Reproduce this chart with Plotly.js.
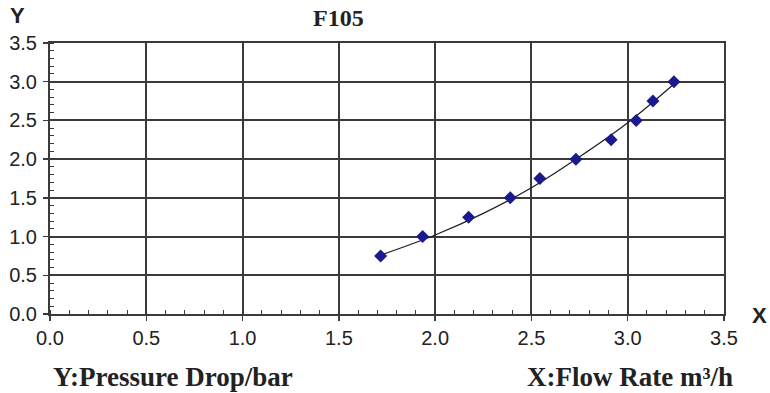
<!DOCTYPE html>
<html>
<head>
<meta charset="utf-8">
<script src="https://cdn.plot.ly/plotly-3.0.1.min.js"></script>
<style>html,body{margin:0;padding:0;background:#fff;}#chart{width:770px;height:393px;}</style>
</head>
<body>
<div id="chart"></div>
<script>
// Measured points: flow rate (m3/h) vs pressure drop (bar)
const flowRate = [1.717, 1.935, 2.174, 2.390, 2.544, 2.731, 2.914, 3.044, 3.131, 3.240];
const pressureDrop = [0.75, 1.00, 1.25, 1.50, 1.75, 2.00, 2.25, 2.50, 2.75, 3.00];
// Trend curve
const curveX = [1.717, 2.0, 2.25, 2.5, 2.75, 3.0, 3.24];
const curveY = [0.76, 1.02, 1.30, 1.63, 2.03, 2.47, 2.97];
const tickVals = [0, 0.5, 1.0, 1.5, 2.0, 2.5, 3.0, 3.5];
const tickText = ['0.0', '0.5', '1.0', '1.5', '2.0', '2.5', '3.0', '3.5'];

const gridColor = '#3a3a3a';
const traces = [
  {x: curveX, y: curveY, mode: 'lines', line: {color: '#222', width: 1.3, shape: 'spline'}, hoverinfo: 'skip'},
  {x: flowRate, y: pressureDrop, mode: 'markers', marker: {symbol: 'diamond', size: 10, color: '#1a1a8e'}}
];
const axisCommon = {
  range: [0, 3.5], tickvals: tickVals, ticktext: tickText,
  showgrid: true, gridcolor: gridColor, gridwidth: 2,
  showline: true, linecolor: gridColor, linewidth: 2, mirror: true,
  ticks: 'outside', ticklen: 5, tickcolor: gridColor, tickwidth: 1.5,
  minor: {dtick: 0.1, tick0: 0, ticks: 'inside', ticklen: 4, tickcolor: gridColor, tickwidth: 1, showgrid: false},
  zeroline: false, fixedrange: true,
  tickfont: {family: 'Liberation Sans, Arial, sans-serif', size: 20, color: '#222'}
};
const layout = {
  width: 770, height: 393,
  margin: {l: 50, r: 46, t: 43, b: 79},
  paper_bgcolor: '#fff', plot_bgcolor: '#fff',
  showlegend: false,
  xaxis: Object.assign({}, axisCommon),
  yaxis: Object.assign({}, axisCommon, {ticklabelstandoff: 2}),
  annotations: [
    {text: '<b>Y</b>', xref: 'paper', yref: 'paper', x: -0.0475, y: 1.1, xanchor: 'center', yanchor: 'middle', showarrow: false, font: {family: 'Liberation Sans, Arial', size: 22, color: '#222'}},
    {text: '<b>F105</b>', xref: 'paper', yref: 'paper', x: 0.4273, y: 1.092, xanchor: 'center', yanchor: 'middle', showarrow: false, font: {family: 'Liberation Serif, Times New Roman, serif', size: 24, color: '#222'}},
    {text: '<b>X</b>', xref: 'paper', yref: 'paper', x: 1.053, y: -0.004, xanchor: 'center', yanchor: 'middle', showarrow: false, font: {family: 'Liberation Sans, Arial', size: 22, color: '#222'}},
    {text: '<b>Y:Pressure Drop/bar</b>', xref: 'paper', yref: 'paper', x: 0.002, y: -0.232, xanchor: 'left', yanchor: 'middle', showarrow: false, font: {family: 'Liberation Serif, Times New Roman, serif', size: 27, color: '#222'}},
    {text: '<b>X:Flow Rate m³/h</b>', xref: 'paper', yref: 'paper', x: 1.016, y: -0.232, xanchor: 'right', yanchor: 'middle', showarrow: false, font: {family: 'Liberation Serif, Times New Roman, serif', size: 27, color: '#222'}}
  ]
};
Plotly.newPlot('chart', traces, layout, {displayModeBar: false, staticPlot: true});
</script>
</body>
</html>
